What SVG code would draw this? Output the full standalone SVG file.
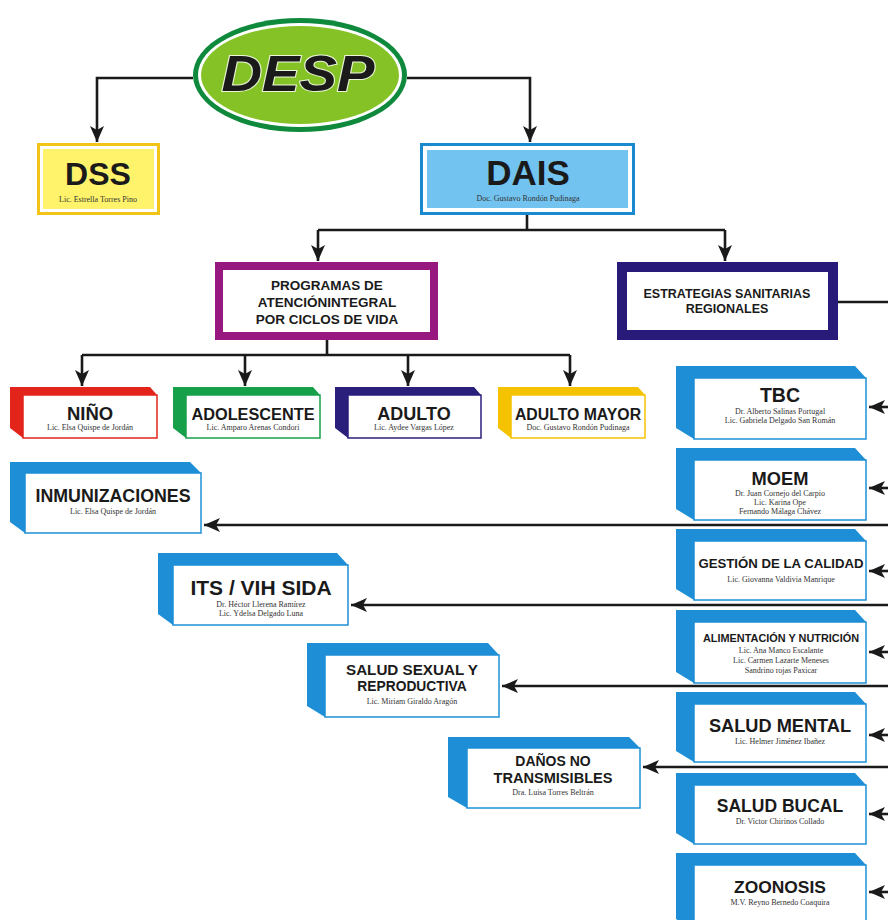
<svg xmlns="http://www.w3.org/2000/svg" width="888" height="920" viewBox="0 0 888 920">
<defs>
<marker id="ah" viewBox="0 0 16 14" refX="16" refY="7" markerWidth="16" markerHeight="14" markerUnits="userSpaceOnUse" orient="auto"><path d="M0,0 L16,7 L0,14 L4,7 Z" fill="#1a1a1a"/></marker>
</defs>
<style>
.h{font-family:"Liberation Sans",Arial,sans-serif;font-weight:bold;fill:#1a1a1a;text-anchor:middle}
.s{font-family:"Liberation Serif","Times New Roman",serif;fill:#333;text-anchor:middle;font-size:8px}
.ln{fill:none;stroke:#1a1a1a;stroke-width:2.6}
.ar{fill:none;stroke:#1a1a1a;stroke-width:2.6;marker-end:url(#ah)}
.face{fill:#fff;stroke-width:1.5}
.blue{fill:#1e8fd6}
.bface{fill:#fff;stroke:#1e8fd6;stroke-width:1.5}
</style>
<rect width="888" height="920" fill="#fff"/>

<g id="connectors">
<path class="ar" d="M193,78 H97 V142"/>
<path class="ar" d="M407,78 H530 V142"/>
<path class="ln" d="M527,215 V230"/>
<path class="ln" d="M318,230 H725"/>
<path class="ar" d="M318,230 V261"/>
<path class="ar" d="M725,230 V261"/>
<path class="ln" d="M327,340 V355"/>
<path class="ln" d="M82,355 H570"/>
<path class="ar" d="M82,355 V386"/>
<path class="ar" d="M245,355 V386"/>
<path class="ar" d="M408,355 V386"/>
<path class="ar" d="M570,355 V386"/>
<path class="ln" d="M838,302 H888"/>
<path class="ar" d="M888,525 H204"/>
<path class="ar" d="M888,605 H351"/>
<path class="ar" d="M888,686 H502"/>
<path class="ar" d="M888,767 H643"/>
<path class="ar" d="M888,407 H869"/>
<path class="ar" d="M888,488 H869"/>
<path class="ar" d="M888,571 H869"/>
<path class="ar" d="M888,652 H869"/>
<path class="ar" d="M888,735 H869"/>
<path class="ar" d="M888,814 H869"/>
<path class="ar" d="M888,892 H869"/>
</g>

<g id="desp">
<ellipse cx="300" cy="75" rx="107" ry="57" fill="#0f8a3c"/>
<ellipse cx="300" cy="75" rx="102" ry="52" fill="#fff"/>
<ellipse cx="300" cy="75" rx="99" ry="49" fill="#84c226"/>
<text x="298" y="91" class="h" font-size="50" font-style="italic" textLength="153" lengthAdjust="spacingAndGlyphs" stroke="#eaf6d6" stroke-width="2" paint-order="stroke">DESP</text>
</g>

<g id="dss">
<rect x="37" y="143" width="123" height="72" fill="#f2c318"/>
<rect x="40" y="146" width="117" height="66" fill="#fff"/>
<rect x="43" y="149" width="111" height="60" fill="#fff36b"/>
<text x="98" y="185" class="h" font-size="32">DSS</text>
<text x="98" y="202" class="s" font-size="7.5">Lic. Estrella Torres Pino</text>
</g>

<g id="dais">
<rect x="420" y="143" width="215" height="72" fill="#1a8ad0"/>
<rect x="423" y="146" width="209" height="66" fill="#fff"/>
<rect x="427" y="150" width="201" height="58" fill="#72c3ef"/>
<text x="528" y="185" class="h" font-size="35">DAIS</text>
<text x="528" y="201" class="s" font-size="7.5">Doc. Gustavo Rondón Pudinaga</text>
</g>

<g id="programas">
<rect x="215" y="262" width="223" height="78" fill="#97197f"/>
<rect x="223" y="270" width="207" height="62" fill="#fff"/>
<text x="327" y="290" class="h" font-size="13.5">PROGRAMAS DE</text>
<text x="327" y="307" class="h" font-size="13.5">ATENCIÓNINTEGRAL</text>
<text x="327" y="324" class="h" font-size="13.5">POR CICLOS DE VIDA</text>
</g>

<g id="estrategias">
<rect x="617" y="262" width="221" height="78" fill="#271a78"/>
<rect x="627" y="272" width="201" height="58" fill="#fff"/>
<text x="727" y="298" class="h" font-size="12.5">ESTRATEGIAS SANITARIAS</text>
<text x="727" y="313" class="h" font-size="12.5">REGIONALES</text>
</g>

<g id="nino">
<path d="M10,387 H150 L157,395 V438 H23 L10,428 Z" fill="#e3241b"/>
<rect x="23" y="395" width="134" height="43" class="face" stroke="#e3241b"/>
<text x="90" y="420" class="h" font-size="18.5">NIÑO</text>
<text x="90" y="430" class="s" font-size="7">Lic. Elsa Quispe de Jordán</text>
</g>

<g id="adolescente">
<path d="M173,387 H313 L320,395 V438 H186 L173,428 Z" fill="#17a04a"/>
<rect x="186" y="395" width="134" height="43" class="face" stroke="#17a04a"/>
<text x="253" y="420" class="h" font-size="16.3">ADOLESCENTE</text>
<text x="253" y="430" class="s" font-size="7">Lic. Amparo Arenas Condori</text>
</g>

<g id="adulto">
<path d="M335,387 H474 L481,395 V438 H348 L335,428 Z" fill="#2b1f7c"/>
<rect x="348" y="395" width="133" height="43" class="face" stroke="#2b1f7c"/>
<text x="414" y="420" class="h" font-size="18">ADULTO</text>
<text x="414" y="430" class="s" font-size="7">Lic. Aydee Vargas López</text>
</g>

<g id="adulto-mayor">
<path d="M498,387 H638 L645,395 V438 H511 L498,428 Z" fill="#f5c200"/>
<rect x="511" y="395" width="134" height="43" class="face" stroke="#f5c200"/>
<text x="578" y="420" class="h" font-size="15.8">ADULTO MAYOR</text>
<text x="578" y="430" class="s" font-size="7">Doc. Gustavo Rondón Pudinaga</text>
</g>

<g id="inmunizaciones">
<path d="M10,462 H190 L201,473 V533 H25 L10,522 Z" class="blue"/>
<rect x="25" y="473" width="176" height="60" class="bface"/>
<text x="113" y="502" class="h" font-size="17.8">INMUNIZACIONES</text>
<text x="113" y="514" class="s" font-size="7">Lic. Elsa Quispe de Jordán</text>
</g>

<g id="its">
<path d="M158,553 H337 L348,565 V625 H173 L158,614 Z" class="blue"/>
<rect x="173" y="565" width="175" height="60" class="bface"/>
<text x="261" y="595" class="h" font-size="21">ITS / VIH SIDA</text>
<text x="261" y="607" class="s" font-size="7.5">Dr. Héctor Llerena Ramírez</text>
<text x="261" y="616" class="s" font-size="7.5">Lic. Ydelsa Delgado Luna</text>
</g>

<g id="salud-sexual">
<path d="M307,643 H488 L499,655 V717 H325 L307,706 Z" class="blue"/>
<rect x="325" y="655" width="174" height="62" class="bface"/>
<text x="412" y="675" class="h" font-size="13.8" textLength="132" lengthAdjust="spacingAndGlyphs">SALUD SEXUAL Y</text>
<text x="412" y="691" class="h" font-size="13.8">REPRODUCTIVA</text>
<text x="412" y="704" class="s" font-size="7">Lic. Miriam Giraldo Aragón</text>
</g>

<g id="danos">
<path d="M448,737 H629 L640,748 V808 H467 L448,797 Z" class="blue"/>
<rect x="467" y="748" width="173" height="60" class="bface"/>
<text x="553" y="766" class="h" font-size="14">DAÑOS NO</text>
<text x="553" y="783" class="h" font-size="14" textLength="119" lengthAdjust="spacingAndGlyphs">TRANSMISIBLES</text>
<text x="553" y="795" class="s" font-size="7">Dra. Luisa Torres Beltrán</text>
</g>

<g id="tbc">
<path d="M676,366 H855 L866,378 V439 H694 L676,428 Z" class="blue"/>
<rect x="694" y="378" width="172" height="61" class="bface"/>
<text x="780" y="402" class="h" font-size="19.5">TBC</text>
<text x="780" y="414" class="s" font-size="7.5">Dr. Alberto Salinas Portugal</text>
<text x="780" y="423" class="s" font-size="7.5">Lic. Gabriela Delgado San Román</text>
</g>

<g id="moem">
<path d="M676,448 H855 L866,460 V520 H694 L676,509 Z" class="blue"/>
<rect x="694" y="460" width="172" height="60" class="bface"/>
<text x="780" y="485" class="h" font-size="18.3">MOEM</text>
<text x="780" y="496" class="s" font-size="7.5">Dr. Juan Cornejo del Carpio</text>
<text x="780" y="505" class="s" font-size="7.5">Lic. Karina Ope</text>
<text x="780" y="514" class="s" font-size="7.5">Fernando Málaga Chávez</text>
</g>

<g id="gestion">
<path d="M676,529 H855 L866,541 V600 H694 L676,589 Z" class="blue"/>
<rect x="694" y="541" width="172" height="59" class="bface"/>
<text x="781" y="568" class="h" font-size="13.2">GESTIÓN DE LA CALIDAD</text>
<text x="781" y="582" class="s" font-size="7.5">Lic. Giovanna Valdivia Manrique</text>
</g>

<g id="alimentacion">
<path d="M676,610 H855 L866,622 V683 H694 L676,672 Z" class="blue"/>
<rect x="694" y="622" width="172" height="61" class="bface"/>
<text x="781" y="642" class="h" font-size="10.9">ALIMENTACIÓN Y NUTRICIÓN</text>
<text x="781" y="653" class="s" font-size="7.5">Lic. Ana Manco Escalante</text>
<text x="781" y="663" class="s" font-size="7.5">Lic. Carmen Lazarte Meneses</text>
<text x="781" y="673" class="s" font-size="7.5">Sandrino rojas Paxicar</text>
</g>

<g id="salud-mental">
<path d="M676,692 H855 L866,704 V762 H694 L676,751 Z" class="blue"/>
<rect x="694" y="704" width="172" height="58" class="bface"/>
<text x="780" y="732" class="h" font-size="18.2">SALUD MENTAL</text>
<text x="780" y="744" class="s" font-size="7.5">Lic. Helmer Jiménez Ibañez</text>
</g>

<g id="salud-bucal">
<path d="M676,773 H855 L866,785 V844 H694 L676,833 Z" class="blue"/>
<rect x="694" y="785" width="172" height="59" class="bface"/>
<text x="780" y="812" class="h" font-size="17.5">SALUD BUCAL</text>
<text x="780" y="824" class="s" font-size="7.5">Dr. Victor Chirinos Collado</text>
</g>

<g id="zoonosis">
<path d="M676,853 H855 L866,865 V930 H694 L676,919 Z" class="blue"/>
<rect x="694" y="865" width="172" height="65" class="bface"/>
<text x="780" y="893" class="h" font-size="17.4">ZOONOSIS</text>
<text x="780" y="905" class="s" font-size="7.5">M.V. Reyno Bernedo Coaquira</text>
</g>
</svg>
